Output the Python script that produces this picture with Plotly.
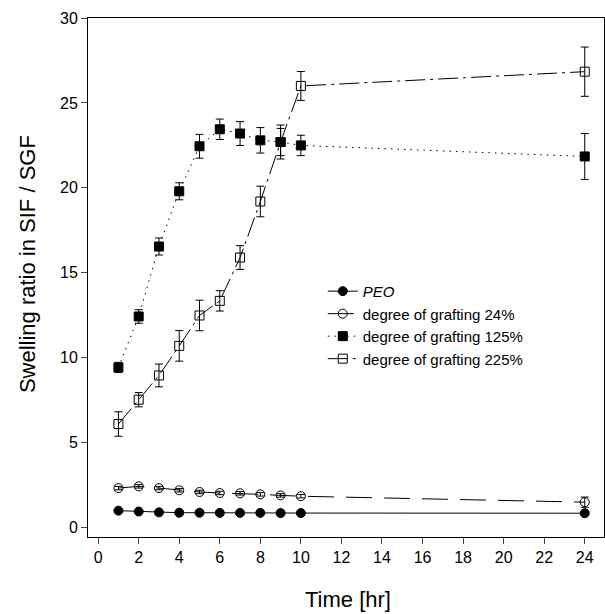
import plotly.graph_objects as go

time = [1, 2, 3, 4, 5, 6, 7, 8, 9, 10, 24]

peo = [1.0, 0.95, 0.9, 0.88, 0.88, 0.87, 0.87, 0.87, 0.86, 0.86, 0.85]
peo_err = [0.05] * 11

g24 = [2.33, 2.43, 2.33, 2.2, 2.1, 2.04, 2.02, 1.96, 1.9, 1.85, 1.5]
g24_err = [0.1, 0.1, 0.1, 0.1, 0.1, 0.1, 0.1, 0.1, 0.1, 0.1, 0.3]

g125 = [9.43, 12.43, 16.55, 19.8, 22.45, 23.45, 23.2, 22.8, 22.7, 22.5, 21.85]
g125_err = [0.3, 0.4, 0.5, 0.5, 0.7, 0.6, 0.7, 0.75, 0.8, 0.6, 1.35]

g225 = [6.1, 7.53, 8.96, 10.7, 12.49, 13.35, 15.9, 19.2, 22.7, 26.0, 26.84]
g225_err = [0.72, 0.42, 0.67, 0.9, 0.9, 0.6, 0.7, 0.9, 1.0, 0.85, 1.45]

names = ["<i>PEO</i>", "degree of grafting 24%", "degree of grafting 125%", "degree of grafting 225%"]
x_ticks = [0, 2, 4, 6, 8, 10, 12, 14, 16, 18, 20, 22, 24]
y_ticks = [0, 5, 10, 15, 20, 25, 30]
x_title = "Time [hr]"
y_title = "Swelling ratio in SIF / SGF"

series = [
    (peo, peo_err, "circle", "solid"),
    (g24, g24_err, "circle-open", "26px,12px"),
    (g125, g125_err, "square", "1.5px,5px"),
    (g225, g225_err, "square-open", "20px,5px,3px,5px"),
]

fig = go.Figure()
for (vals, errs, sym, dash), name in zip(series, names):
    fig.add_trace(go.Scatter(
        x=time, y=vals, name=name, mode="lines+markers",
        line=dict(color="black", width=1, dash=dash),
        marker=dict(symbol=sym, size=9, color="black", line=dict(color="black", width=1)),
        error_y=dict(type="data", array=errs, visible=True, color="black",
                     thickness=1, width=4),
    ))

fig.update_layout(
    width=605, height=614,
    margin=dict(l=88, r=1, t=18, b=77),
    plot_bgcolor="white", paper_bgcolor="white",
    font=dict(family="Arial, Liberation Sans, sans-serif", size=16, color="black"),
    showlegend=True,
    legend=dict(x=0.455, y=0.505, xanchor="left", yanchor="top",
                bgcolor="rgba(0,0,0,0)", font=dict(size=15),
                itemwidth=30, tracegroupgap=0),
    xaxis=dict(range=[-0.5, 24.95], tickvals=x_ticks, ticks="outside", ticklen=6,
               showline=True, linecolor="black", linewidth=1, mirror=True,
               showgrid=False, zeroline=False),
    yaxis=dict(range=[-0.55, 30], tickvals=y_ticks, ticks="outside", ticklen=6,
               showline=True, linecolor="black", linewidth=1, mirror=True,
               showgrid=False, zeroline=False),
    annotations=[
        dict(text=x_title, xref="paper", yref="paper", x=0.504, y=-0.121,
             xanchor="center", yanchor="middle", showarrow=False, font=dict(size=22)),
        dict(text=y_title, xref="paper", yref="paper", x=-0.118, y=0.526,
             xanchor="center", yanchor="middle", showarrow=False, textangle=-90,
             font=dict(size=22)),
    ],
)

fig.write_html("out.html", config={"displayModeBar": False},
               post_script="document.body.style.margin='0';document.body.style.overflow='hidden';")
